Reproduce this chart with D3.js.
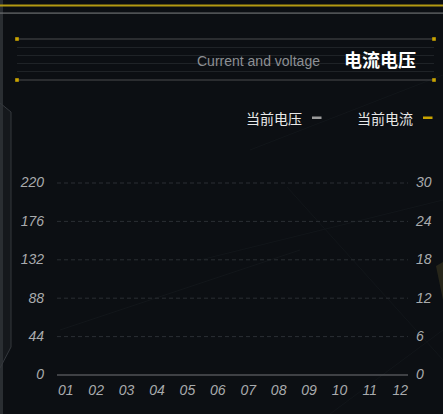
<!DOCTYPE html>
<html>
<head>
<meta charset="utf-8">
<script src="https://cdn.jsdelivr.net/npm/d3@7/dist/d3.min.js"></script>
<style>
  html, body { margin: 0; padding: 0; background: #0c0f13; }
  svg { display: block; font-family: "Liberation Sans", "Noto Sans CJK SC", sans-serif; }
</style>
</head>
<body>
<svg id="chart" width="443" height="414"></svg>
<script>
// chart values
var months = ["01", "02", "03", "04", "05", "06", "07", "08", "09", "10", "11", "12"];
var voltageTicks = [0, 44, 88, 132, 176, 220];
var currentTicks = [0, 6, 12, 18, 24, 30];
// no readings shown in the picture
var voltage = [null, null, null, null, null, null, null, null, null, null, null, null];
var current = [null, null, null, null, null, null, null, null, null, null, null, null];
var seriesNames = ["当前电压", "当前电流"];
var seriesColors = ["#9b9b9b", "#c9a400"];

var svg = d3.select("#chart"),
    W = 443, H = 414;

// background + frame decoration
svg.append("rect").attr("width", W).attr("height", H).attr("fill", "#0c0f13");

var deco = svg.append("g").attr("class", "deco");
// faint background lines
[[250, 150, 443, 75], [287, 187, 443, 360], [200, 260, 443, 200], [60, 330, 300, 250], [330, 414, 443, 330]]
    .forEach(function (l) {
        deco.append("line")
            .attr("x1", l[0]).attr("y1", l[1]).attr("x2", l[2]).attr("y2", l[3])
            .attr("stroke", "#12161a").attr("stroke-width", 1);
    });
deco.append("path")
    .attr("d", "M443,262 L436,266 L443,300 Z")
    .attr("fill", "#3a3620").attr("opacity", 0.6);

deco.append("rect").attr("x", 0).attr("y", 0).attr("width", 3).attr("height", H).attr("fill", "#2a2e32");
deco.append("path")
    .attr("d", "M3,105 L11,112 L11,347 L3,362 Z")
    .attr("fill", "#15181c");
deco.append("path")
    .attr("d", "M0,103 L11,112 L11,347 L0,368")
    .attr("fill", "none").attr("stroke", "#34383d").attr("stroke-width", 1);

deco.append("rect").attr("x", 0).attr("y", 4.5).attr("width", W).attr("height", 2).attr("fill", "#b39a12");
deco.append("rect").attr("x", 0).attr("y", 12.5).attr("width", W).attr("height", 1.2).attr("fill", "#6c6e70");

// header box
var head = svg.append("g").attr("class", "header");
[47.5, 55.5, 63.5, 71.5].forEach(function (y) {
    head.append("line").attr("x1", 17).attr("x2", 434).attr("y1", y).attr("y2", y)
        .attr("stroke", "#1f2327").attr("stroke-width", 1);
});
[39, 80].forEach(function (y) {
    head.append("line").attr("x1", 17).attr("x2", 434).attr("y1", y).attr("y2", y)
        .attr("stroke", "#4a4c4e").attr("stroke-width", 1.2);
    [17, 434].forEach(function (x) {
        head.append("rect").attr("x", x - 1.8).attr("y", y - 1.8).attr("width", 3.6).attr("height", 3.6)
            .attr("fill", "#c9a400");
    });
});
head.append("text").attr("x", 197).attr("y", 66)
    .attr("fill", "#8d9094").attr("font-size", 14)
    .text("Current and voltage");
head.append("text").attr("x", 344).attr("y", 67)
    .attr("fill", "#ffffff").attr("font-size", 18).attr("font-weight", "bold")
    .text("电流电压");

// legend
var legend = svg.append("g").attr("class", "legend");
var legendRight = [302, 413];
seriesNames.forEach(function (name, i) {
    legend.append("text").attr("x", legendRight[i]).attr("y", 124)
        .attr("text-anchor", "end").attr("fill", "#e8e8e8").attr("font-size", 14)
        .text(name);
    legend.append("rect").attr("x", legendRight[i] + 10).attr("y", 116.5)
        .attr("width", 9.5).attr("height", 2.5).attr("fill", seriesColors[i]);
});

// plot area
var pLeft = 57, pRight = 408, pTop = 183, pBottom = 375;

var x = d3.scalePoint().domain(months).range([pLeft, pRight]).padding(0.27);
var yV = d3.scaleLinear().domain([0, 220]).range([pBottom, pTop]);
var yC = d3.scaleLinear().domain([0, 30]).range([pBottom, pTop]);

var plot = svg.append("g").attr("class", "plot");

// dashed grid
plot.selectAll("line.grid")
    .data(voltageTicks.filter(function (d) { return d > 0; }))
    .enter().append("line")
    .attr("class", "grid")
    .attr("x1", pLeft).attr("x2", pRight)
    .attr("y1", function (d) { return yV(d); })
    .attr("y2", function (d) { return yV(d); })
    .attr("stroke", "#2b2f34").attr("stroke-width", 1)
    .attr("stroke-dasharray", "4,3");

// x axis line
plot.append("line")
    .attr("x1", pLeft).attr("x2", pRight).attr("y1", pBottom).attr("y2", pBottom)
    .attr("stroke", "#505357").attr("stroke-width", 1.5);

var labelStyle = function (sel) {
    sel.attr("fill", "#a9abad").attr("font-size", 14).attr("font-style", "italic");
};

// axes via d3
var xAxis = d3.axisBottom(x).tickSize(0).tickPadding(0);
var gx = plot.append("g").attr("transform", "translate(0," + (pBottom + 14) + ")").call(xAxis);
gx.select(".domain").remove();
gx.selectAll("text").attr("dy", "0.4em").call(labelStyle);

var yAxisL = d3.axisLeft(yV).tickValues(voltageTicks).tickSize(0).tickPadding(0);
var gyl = plot.append("g").attr("transform", "translate(44,0)").call(yAxisL);
gyl.select(".domain").remove();
gyl.selectAll("text").attr("dy", "0.28em").call(labelStyle);

var yAxisR = d3.axisRight(yC).tickValues(currentTicks).tickSize(0).tickPadding(0);
var gyr = plot.append("g").attr("transform", "translate(416,0)").call(yAxisR);
gyr.select(".domain").remove();
gyr.selectAll("text").attr("dy", "0.28em").call(labelStyle);

[gx, gyl, gyr].forEach(function (g) {
    g.attr("font-family", null).attr("font-size", null);
});

// series lines (empty in the reference)
var lineV = d3.line()
    .defined(function (d) { return d != null; })
    .x(function (d, i) { return x(months[i]); })
    .y(function (d) { return yV(d); });
var lineC = d3.line()
    .defined(function (d) { return d != null; })
    .x(function (d, i) { return x(months[i]); })
    .y(function (d) { return yC(d); });

plot.append("path").datum(voltage).attr("d", lineV)
    .attr("fill", "none").attr("stroke", seriesColors[0]).attr("stroke-width", 2);
plot.append("path").datum(current).attr("d", lineC)
    .attr("fill", "none").attr("stroke", seriesColors[1]).attr("stroke-width", 2);
</script>
</body>
</html>
